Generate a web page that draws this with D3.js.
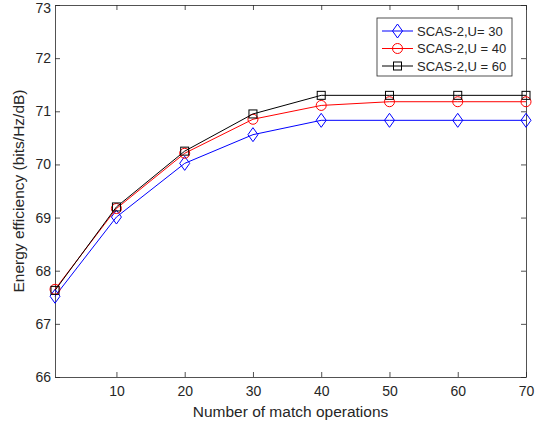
<!DOCTYPE html>
<html>
<head>
<meta charset="utf-8">
<script src="https://cdn.jsdelivr.net/npm/d3@7"></script>
<style>
  body { margin: 0; background: #fff; }
  text { font-family: Arial, "Liberation Sans", sans-serif; fill: #262626; }
</style>
</head>
<body>
<svg width="545" height="426"></svg>
<script>
// data
const xValues = [1, 10, 20, 30, 40, 50, 60, 70];
const u30 = [67.52, 69.01, 70.02, 70.56, 70.83, 70.83, 70.83, 70.83];
const u40 = [67.65, 69.17, 70.21, 70.85, 71.11, 71.18, 71.18, 71.18];
const u60 = [67.63, 69.2, 70.25, 70.95, 71.3, 71.3, 71.3, 71.3];
const seriesNames = ["SCAS-2,U= 30", "SCAS-2,U = 40", "SCAS-2,U = 60"];
const xTicks = [10, 20, 30, 40, 50, 60, 70];
const yTicks = [66, 67, 68, 69, 70, 71, 72, 73];

const svg = d3.select("svg");
const margin = {top: 5, right: 19, bottom: 49, left: 55};
const width = 545 - margin.left - margin.right;
const height = 426 - margin.top - margin.bottom;

const g = svg.append("g").attr("transform", "translate(" + margin.left + "," + margin.top + ")");

const x = d3.scaleLinear().domain([1, 70]).range([0, width]);
const y = d3.scaleLinear().domain([66, 73]).range([height, 0]);

// axes, matlab style box with inward ticks
const axisColor = "#262626";
const tickLen = 5;
const xb = g.append("g").attr("transform", "translate(0," + height + ")")
    .call(d3.axisBottom(x).tickValues(xTicks).tickFormat(d3.format("d"))
        .tickSizeInner(-tickLen).tickSizeOuter(0).tickPadding(9));
const xt = g.append("g")
    .call(d3.axisTop(x).tickValues(xTicks).tickSizeInner(-tickLen).tickSizeOuter(0).tickFormat(""));
const yl = g.append("g")
    .call(d3.axisLeft(y).tickValues(yTicks).tickFormat(d3.format("d"))
        .tickSizeInner(-tickLen).tickSizeOuter(0).tickPadding(4));
const yr = g.append("g").attr("transform", "translate(" + width + ",0)")
    .call(d3.axisRight(y).tickValues(yTicks).tickSizeInner(-tickLen).tickSizeOuter(0).tickFormat(""));
[xb, xt, yl, yr].forEach(a => {
  a.selectAll("path, line").attr("stroke", axisColor).attr("stroke-width", 0.8);
  a.selectAll("text").attr("font-size", 14).attr("fill", axisColor)
      .attr("font-family", "Arial, 'Liberation Sans', sans-serif");
});
// top label sits a little lower so it is not clipped by the page edge
yl.selectAll(".tick text").filter(d => d === 73).attr("dy", "0.55em");

// axis labels
g.append("text")
    .attr("x", width / 2).attr("y", height + 40)
    .attr("text-anchor", "middle").attr("font-size", 15.5)
    .text("Number of match operations");
g.append("text")
    .attr("transform", "rotate(-90)")
    .attr("x", -height / 2).attr("y", -31)
    .attr("text-anchor", "middle").attr("font-size", 15.5)
    .text("Energy efficiency (bits/Hz/dB)");

const series = [
  {name: seriesNames[0], vals: u30, color: "#0000ff", marker: "diamond"},
  {name: seriesNames[1], vals: u40, color: "#ff0000", marker: "circle"},
  {name: seriesNames[2], vals: u60, color: "#000000", marker: "square"}
];

const line = d3.line().x(d => x(d[0])).y(d => y(d[1]));

function drawMarker(sel, type, color) {
  if (type === "diamond") {
    sel.append("path").attr("d", "M0,-7L5,0L0,7L-5,0Z");
  } else if (type === "circle") {
    sel.append("circle").attr("r", 5);
  } else {
    sel.append("rect").attr("x", -4).attr("y", -4).attr("width", 8).attr("height", 8);
  }
  sel.selectAll("path, circle, rect").attr("fill", "none").attr("stroke", color).attr("stroke-width", 1);
}

series.forEach(s => {
  const pts = d3.zip(xValues, s.vals);
  g.append("path").datum(pts)
      .attr("fill", "none").attr("stroke", s.color).attr("stroke-width", 1)
      .attr("d", line);
  g.selectAll(".m-" + s.marker).data(pts).enter().append("g")
      .attr("class", "m-" + s.marker)
      .attr("transform", d => "translate(" + x(d[0]) + "," + y(d[1]) + ")")
      .each(function () { drawMarker(d3.select(this), s.marker, s.color); });
});

// legend
const lg = svg.append("g").attr("transform", "translate(377,18)");
lg.append("rect").attr("width", 135).attr("height", 58)
    .attr("fill", "#fff").attr("stroke", axisColor).attr("stroke-width", 0.8);
series.forEach((s, i) => {
  const row = lg.append("g").attr("transform", "translate(0," + (13 + i * 17.5) + ")");
  row.append("line").attr("x1", 5).attr("x2", 36).attr("y1", 0).attr("y2", 0)
      .attr("stroke", s.color).attr("stroke-width", 1);
  const m = row.append("g").attr("transform", "translate(20.5,0)");
  drawMarker(m, s.marker, s.color);
  row.append("text").attr("x", 40).attr("y", 4.5).attr("font-size", 13).text(s.name);
});
</script>
</body>
</html>
